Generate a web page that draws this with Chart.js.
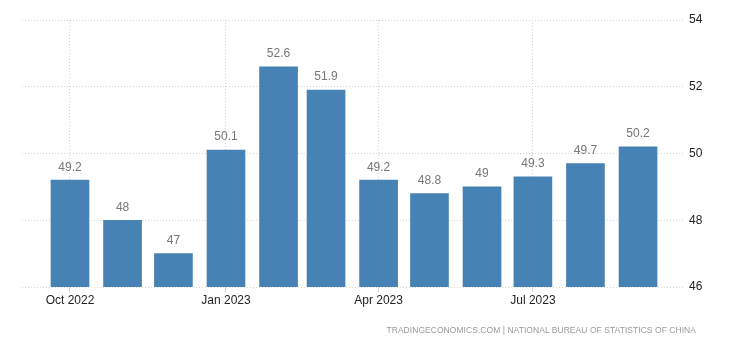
<!DOCTYPE html>
<html>
<head>
<meta charset="utf-8">
<script src="https://cdn.jsdelivr.net/npm/chart.js@4"></script>
<style>
  html, body { margin: 0; padding: 0; background: #fff; }
  #wrap { position: relative; width: 740px; height: 345px; }
  #src { position: absolute; right: 44px; top: 325px; font-family: "Liberation Sans", Arial, sans-serif;
         font-size: 8.5px; letter-spacing: 0.05px; color: #9a9a9a; white-space: nowrap; }
</style>
</head>
<body>
<div id="wrap">
  <canvas id="c" width="740" height="345"></canvas>
  <div id="src">TRADINGECONOMICS.COM | NATIONAL BUREAU OF STATISTICS OF CHINA</div>
</div>
<script>
// Data
const months = ['2022-10','2022-11','2022-12','2023-01','2023-02','2023-03','2023-04','2023-05','2023-06','2023-07','2023-08','2023-09'];
const values = [49.2, 48, 47, 50.1, 52.6, 51.9, 49.2, 48.8, 49, 49.3, 49.7, 50.2];
const tickMonths = ['2022-10','2023-01','2023-04','2023-07'];
const tickLabels = ['Oct 2022','Jan 2023','Apr 2023','Jul 2023'];
const yTicks = [46, 48, 50, 52, 54];

// month -> day offset (time axis)
const origin = Date.UTC(2022, 9, 1);
function dayOf(m) {
  const [y, mo] = m.split('-').map(Number);
  return (Date.UTC(y, mo - 1, 1) - origin) / 86400000;
}
const points = months.map((m, i) => ({ x: dayOf(m), y: values[i] }));
const tickDays = tickMonths.map(dayOf);

const FONT = '"Liberation Sans", Arial, sans-serif';
const gridColor = '#d6d6d6';

const valueLabels = {
  id: 'valueLabels',
  afterDatasetsDraw(chart) {
    const ctx = chart.ctx;
    const meta = chart.getDatasetMeta(0);
    ctx.save();
    ctx.font = '12px ' + FONT;
    ctx.fillStyle = '#777';
    ctx.textAlign = 'center';
    ctx.textBaseline = 'middle';
    meta.data.forEach((el, i) => {
      ctx.fillText(String(values[i]), el.x, el.y - 13);
    });
    ctx.restore();
  }
};

new Chart(document.getElementById('c'), {
  type: 'bar',
  data: {
    datasets: [{
      data: points,
      backgroundColor: '#4682b4',
      borderWidth: 0,
      barThickness: 38
    }]
  },
  options: {
    responsive: false,
    animation: false,
    layout: { padding: { left: 22, right: 0, top: 20, bottom: 0 } },
    plugins: { legend: { display: false }, tooltip: { enabled: false } },
    scales: {
      x: {
        type: 'linear',
        offset: false,
        min: -28.3,
        max: 362.7,
        afterBuildTicks(scale) { scale.ticks = tickDays.map(v => ({ value: v })); },
        afterFit(scale) { scale.height = 58; },
        ticks: {
          autoSkip: false, maxRotation: 0, padding: 1,
          color: '#222', font: { family: FONT, size: 12 },
          callback(v) { const i = tickDays.indexOf(v); return i >= 0 ? tickLabels[i] : ''; }
        },
        grid: { offset: false, color: gridColor, tickColor: gridColor, tickLength: 5, drawTicks: true, tickBorderDash: [] },
        border: { display: false, dash: [1, 2] }
      },
      y: {
        position: 'right',
        min: 46, max: 54,
        afterBuildTicks(scale) { scale.ticks = yTicks.map(v => ({ value: v })); },
        afterFit(scale) { scale.width = 55; },
        ticks: { padding: 4, color: '#222', font: { family: FONT, size: 12 } },
        grid: { color: gridColor, drawTicks: false },
        border: { display: false, dash: [1, 2] }
      }
    }
  },
  plugins: [valueLabels]
});
</script>
</body>
</html>
